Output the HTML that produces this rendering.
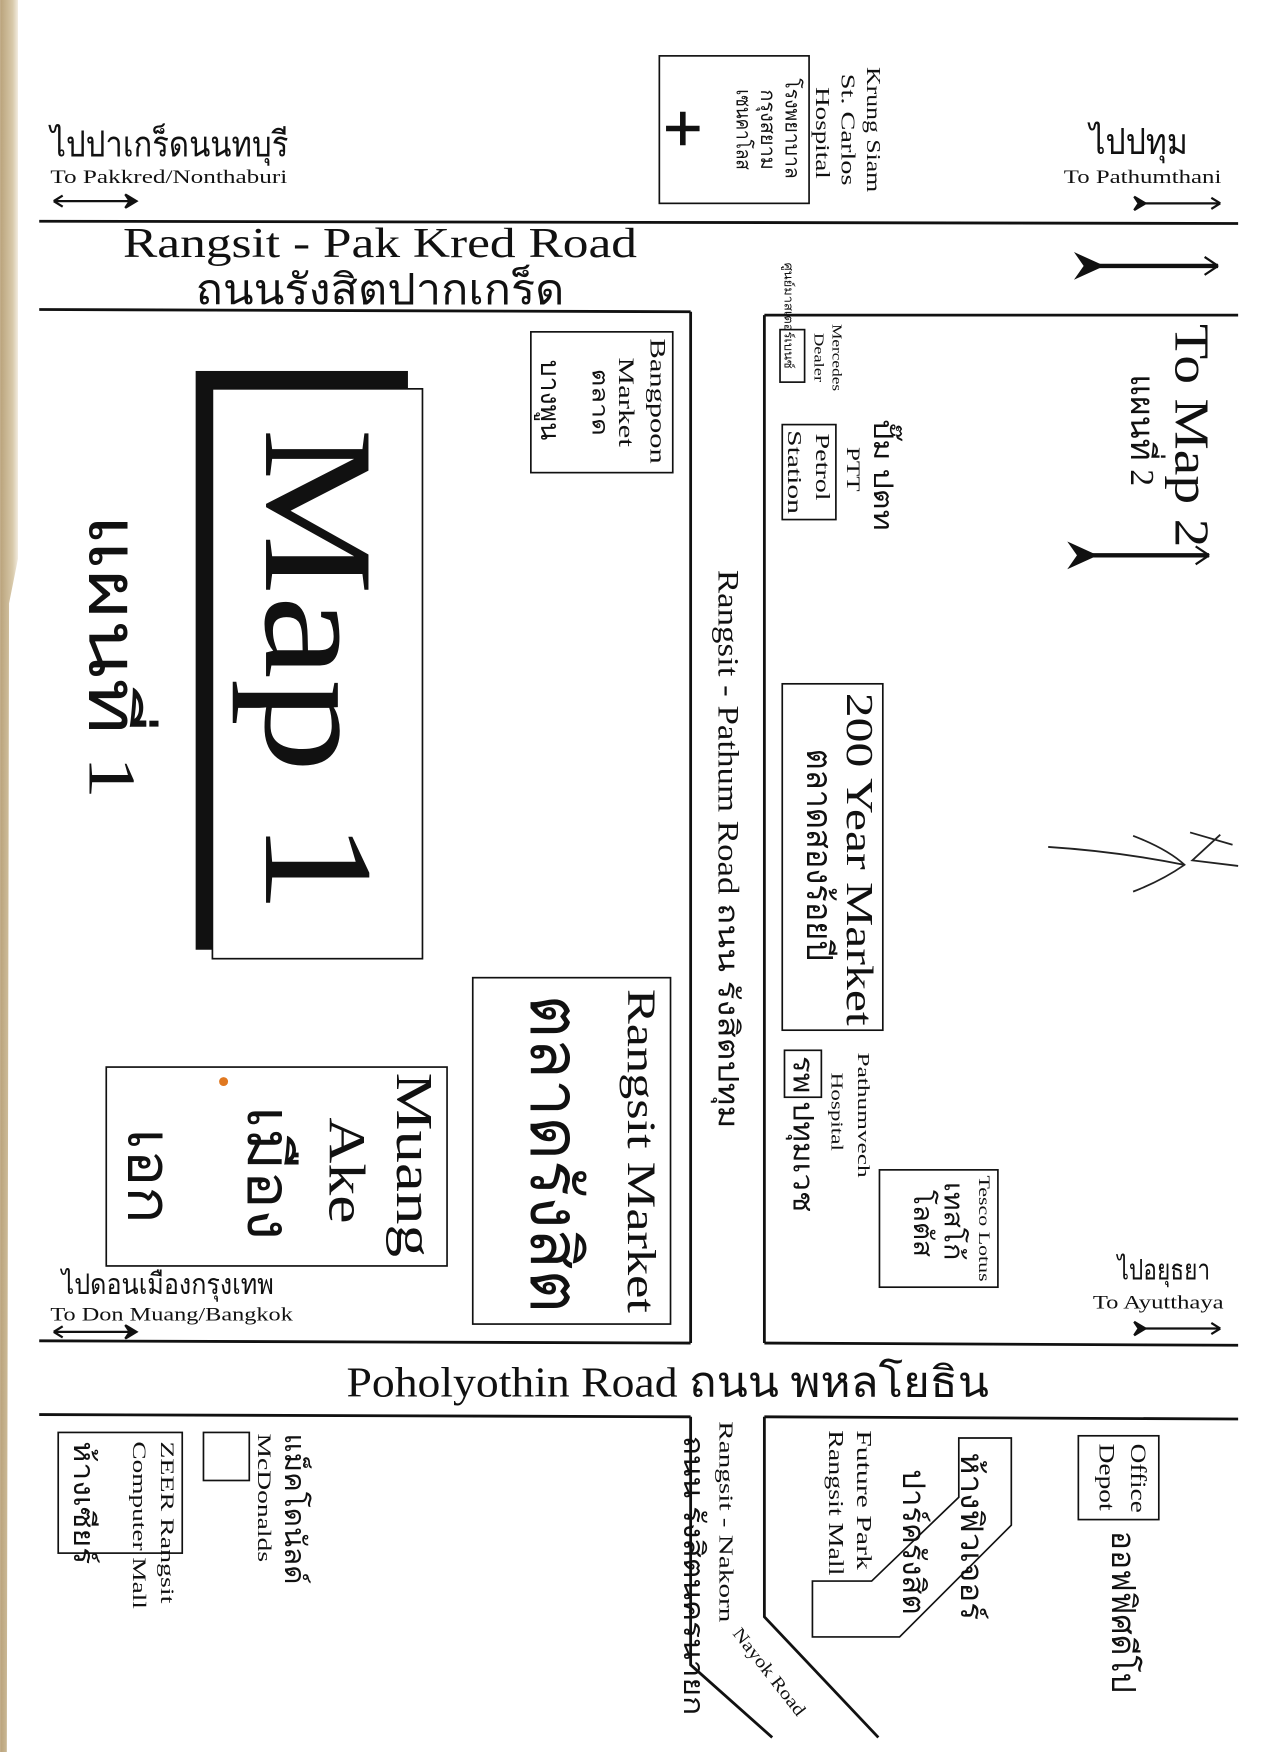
<!DOCTYPE html>
<html><head><meta charset="utf-8"><style>
html,body{margin:0;padding:0;background:#fff;}
svg{display:block;}
text{font-family:"Liberation Serif","DejaVu Serif",serif;fill:#111;}
</style></head><body>
<svg width="1274" height="1752" viewBox="0 0 1140 1568" xmlns="http://www.w3.org/2000/svg">
<defs><linearGradient id="tan" x1="0" x2="1"><stop offset="0" stop-color="#b9a27a"/><stop offset="0.7" stop-color="#d8c9aa"/><stop offset="1" stop-color="#f2ece0"/></linearGradient></defs>
<rect width="1140" height="1568" fill="#fff"/>
<path d="M0 0H16V500L8 540L6 1568H0Z" fill="url(#tan)"/>
<g stroke="#111" stroke-width="2.5" fill="none">
<line x1="35" y1="198" x2="1108" y2="200"/>
<line x1="35" y1="277" x2="618" y2="279"/>
<line x1="684" y1="282" x2="1108" y2="282"/>
<line x1="618" y1="279" x2="618" y2="1202"/>
<line x1="684" y1="282" x2="684" y2="1202"/>
<line x1="35" y1="1200" x2="618" y2="1202"/>
<line x1="684" y1="1202" x2="1108" y2="1204"/>
<line x1="35" y1="1266" x2="618" y2="1268"/>
<line x1="684" y1="1268" x2="1108" y2="1270"/>
<polyline points="618,1268 618,1490 691,1555"/>
<polyline points="684,1268 684,1447 786,1555"/>
</g>
<g stroke="#111" stroke-width="1.5" fill="none">
<rect x="590" y="50" width="134" height="132"/>
<rect x="698" y="295" width="22" height="47"/>
<rect x="700" y="380" width="48" height="85"/>
<rect x="475" y="297" width="127" height="126"/>
<rect x="700" y="612" width="90" height="310"/>
<rect x="702" y="940" width="33" height="42"/>
<rect x="787" y="1047" width="106" height="105"/>
<rect x="423" y="875" width="177" height="310"/>
<rect x="95" y="955" width="305" height="178"/>
<rect x="52" y="1282" width="111" height="108"/>
<rect x="182" y="1282" width="41" height="43"/>
<rect x="965" y="1285" width="72" height="75"/>
<polygon points="858,1287 905,1287 905,1365 805,1465 727,1465 727,1415 780,1415 858,1340"/>
</g>
<rect x="175" y="332" width="190" height="518" fill="#111"/>
<rect x="190" y="348" width="188" height="510" fill="#fff" stroke="#111" stroke-width="1.5"/>
<path d="M596 115h30M611 100v30" stroke="#111" stroke-width="5"/>
<circle cx="200" cy="968" r="4" fill="#e07820"/>
<g stroke="#111" stroke-width="2" fill="#111">
<line x1="48" y1="180" x2="122" y2="180"/><path d="M48 180l8-5M48 180l8 5" fill="none"/><path d="M112 174l10 6-10 6 4-6z"/>
<line x1="1018" y1="182" x2="1092" y2="182"/><path d="M1092 182l-8-5M1092 182l-8 5" fill="none"/><path d="M1015 176l10 6-10 6 4-6z"/>
<line x1="48" y1="1192" x2="122" y2="1192"/><path d="M48 1192l8-5M48 1192l8 5" fill="none"/><path d="M112 1186l10 6-10 6 4-6z"/>
<line x1="1018" y1="1189" x2="1092" y2="1189"/><path d="M1092 1189l-8-5M1092 1189l-8 5" fill="none"/><path d="M1015 1183l10 6-10 6 4-6z"/>
<line x1="970" y1="238" x2="1090" y2="238" stroke-width="4"/><path d="M1090 238l-12-8M1090 238l-12 8" fill="none"/><path d="M964 228l22 10-22 10 7-10z"/>
<line x1="965" y1="497" x2="1082" y2="497" stroke-width="4"/><path d="M1082 497l-12-8M1082 497l-12 8" fill="none"/><path d="M958 487l22 10-22 10 7-10z"/>
</g>
<g stroke="#222" stroke-width="1.6" fill="none">
<path d="M938 758Q1000 762 1060 774"/><path d="M1014 748Q1045 760 1060 774Q1040 788 1014 798"/>
<path d="M1065 745L1103 756M1092 747L1067 770L1108 775"/>
</g>
<g lengthAdjust="spacingAndGlyphs">
<text lengthAdjust="spacingAndGlyphs" x="45" y="140" font-size="32" textLength="213">ไปปาเกร็ดนนทบุรี</text>
<text lengthAdjust="spacingAndGlyphs" x="45" y="164" font-size="17" textLength="212">To Pakkred/Nonthaburi</text>
<text lengthAdjust="spacingAndGlyphs" x="975" y="138" font-size="32" textLength="88">ไปปทุม</text>
<text lengthAdjust="spacingAndGlyphs" x="952" y="164" font-size="17" textLength="141">To Pathumthani</text>
<text lengthAdjust="spacingAndGlyphs" x="110" y="230" font-size="38" textLength="460">Rangsit - Pak Kred Road</text>
<text lengthAdjust="spacingAndGlyphs" x="175" y="272" font-size="38" textLength="330">ถนนรังสิตปากเกร็ด</text>
<text lengthAdjust="spacingAndGlyphs" x="55" y="1158" font-size="26" textLength="190">ไปดอนเมืองกรุงเทพ</text>
<text lengthAdjust="spacingAndGlyphs" x="45" y="1182" font-size="17" textLength="217">To Don Muang/Bangkok</text>
<text lengthAdjust="spacingAndGlyphs" x="1000" y="1145" font-size="26" textLength="83">ไปอยุธยา</text>
<text lengthAdjust="spacingAndGlyphs" x="978" y="1171" font-size="17" textLength="117">To Ayutthaya</text>
<text lengthAdjust="spacingAndGlyphs" x="310" y="1250" font-size="38" textLength="575">Poholyothin Road ถนน พหลโยธิน</text>
<text lengthAdjust="spacingAndGlyphs" transform="translate(776,60) rotate(90)" font-size="18" textLength="112">Krung Siam</text>
<text lengthAdjust="spacingAndGlyphs" transform="translate(753,66) rotate(90)" font-size="18" textLength="100">St. Carlos</text>
<text lengthAdjust="spacingAndGlyphs" transform="translate(730,78) rotate(90)" font-size="18" textLength="82">Hospital</text>
<text lengthAdjust="spacingAndGlyphs" transform="translate(703,70) rotate(90)" font-size="18" textLength="90">โรงพยาบาล</text>
<text lengthAdjust="spacingAndGlyphs" transform="translate(681,80) rotate(90)" font-size="18" textLength="72">กรุงสยาม</text>
<text lengthAdjust="spacingAndGlyphs" transform="translate(659,80) rotate(90)" font-size="18" textLength="72">เซนคาโลส</text>
<text lengthAdjust="spacingAndGlyphs" transform="translate(1052,290) rotate(90)" font-size="44" textLength="200">To Map 2</text>
<text lengthAdjust="spacingAndGlyphs" transform="translate(1012,335) rotate(90)" font-size="30" textLength="100">แผนที่ 2</text>
<text lengthAdjust="spacingAndGlyphs" transform="translate(745,290) rotate(90)" font-size="12" textLength="60">Mercedes</text>
<text lengthAdjust="spacingAndGlyphs" transform="translate(729,298) rotate(90)" font-size="12" textLength="44">Dealer</text>
<text lengthAdjust="spacingAndGlyphs" transform="translate(702,235) rotate(90)" font-size="11" textLength="95">ศูนย์มาสเตอร์เบนซ์</text>
<text lengthAdjust="spacingAndGlyphs" transform="translate(782,375) rotate(90)" font-size="24" textLength="100">ปั๊ม ปตท</text>
<text lengthAdjust="spacingAndGlyphs" transform="translate(758,400) rotate(90)" font-size="17" textLength="40">PTT</text>
<text lengthAdjust="spacingAndGlyphs" transform="translate(730,388) rotate(90)" font-size="18" textLength="60">Petrol</text>
<text lengthAdjust="spacingAndGlyphs" transform="translate(705,385) rotate(90)" font-size="18" textLength="75">Station</text>
<text lengthAdjust="spacingAndGlyphs" transform="translate(582,303) rotate(90)" font-size="20" textLength="112">Bangpoon</text>
<text lengthAdjust="spacingAndGlyphs" transform="translate(554,320) rotate(90)" font-size="20" textLength="80">Market</text>
<text lengthAdjust="spacingAndGlyphs" transform="translate(530,330) rotate(90)" font-size="20" textLength="60">ตลาด</text>
<text lengthAdjust="spacingAndGlyphs" transform="translate(484,322) rotate(90)" font-size="24" textLength="72">บางพูน</text>
<text lengthAdjust="spacingAndGlyphs" transform="translate(238,383) rotate(90)" font-size="140" textLength="435">Map 1</text>
<text lengthAdjust="spacingAndGlyphs" transform="translate(80,460) rotate(90)" font-size="60" textLength="255">แผนที่ 1</text>
<text lengthAdjust="spacingAndGlyphs" transform="translate(643,510) rotate(90)" font-size="26" textLength="500">Rangsit - Pathum Road ถนน รังสิตปทุม</text>
<text lengthAdjust="spacingAndGlyphs" transform="translate(758,620) rotate(90)" font-size="34" textLength="298">200 Year Market</text>
<text lengthAdjust="spacingAndGlyphs" transform="translate(722,670) rotate(90)" font-size="32" textLength="190">ตลาดสองร้อยปี</text>
<text lengthAdjust="spacingAndGlyphs" transform="translate(768,942) rotate(90)" font-size="15" textLength="112">Pathumvech</text>
<text lengthAdjust="spacingAndGlyphs" transform="translate(744,960) rotate(90)" font-size="15" textLength="70">Hospital</text>
<text lengthAdjust="spacingAndGlyphs" transform="translate(710,945) rotate(90)" font-size="26" textLength="140">รพ ปทุมเวช</text>
<text lengthAdjust="spacingAndGlyphs" transform="translate(876,1052) rotate(90)" font-size="14" textLength="95">Tesco Lotus</text>
<text lengthAdjust="spacingAndGlyphs" transform="translate(845,1058) rotate(90)" font-size="24" textLength="70">เทสโก้</text>
<text lengthAdjust="spacingAndGlyphs" transform="translate(818,1065) rotate(90)" font-size="24" textLength="60">โลตัส</text>
<text lengthAdjust="spacingAndGlyphs" transform="translate(562,885) rotate(90)" font-size="36" textLength="290">Rangsit Market</text>
<text lengthAdjust="spacingAndGlyphs" transform="translate(475,890) rotate(90)" font-size="62" textLength="285">ตลาดรังสิต</text>
<text lengthAdjust="spacingAndGlyphs" transform="translate(355,960) rotate(90)" font-size="46" textLength="165">Muang</text>
<text lengthAdjust="spacingAndGlyphs" transform="translate(295,1000) rotate(90)" font-size="46" textLength="95">Ake</text>
<text lengthAdjust="spacingAndGlyphs" transform="translate(222,990) rotate(90)" font-size="54" textLength="120">เมือง</text>
<text lengthAdjust="spacingAndGlyphs" transform="translate(115,1010) rotate(90)" font-size="54" textLength="85">เอก</text>
<text lengthAdjust="spacingAndGlyphs" transform="translate(144,1290) rotate(90)" font-size="17" textLength="145">ZEER Rangsit</text>
<text lengthAdjust="spacingAndGlyphs" transform="translate(119,1290) rotate(90)" font-size="17" textLength="150">Computer Mall</text>
<text lengthAdjust="spacingAndGlyphs" transform="translate(66,1290) rotate(90)" font-size="26" textLength="110">ห้างเซียร์</text>
<text lengthAdjust="spacingAndGlyphs" transform="translate(231,1283) rotate(90)" font-size="17" textLength="115">McDonalds</text>
<text lengthAdjust="spacingAndGlyphs" transform="translate(255,1283) rotate(90)" font-size="26" textLength="135">แม็คโดนัลด์</text>
<text lengthAdjust="spacingAndGlyphs" transform="translate(644,1272) rotate(90)" font-size="18" textLength="180">Rangsit - Nakorn</text>
<text lengthAdjust="spacingAndGlyphs" transform="translate(655,1462) rotate(52)" font-size="16" textLength="95">Nayok Road</text>
<text lengthAdjust="spacingAndGlyphs" transform="translate(612,1285) rotate(90)" font-size="26" textLength="250">ถนน รังสิตนครนายก</text>
<text lengthAdjust="spacingAndGlyphs" transform="translate(767,1280) rotate(90)" font-size="19" textLength="125">Future Park</text>
<text lengthAdjust="spacingAndGlyphs" transform="translate(742,1280) rotate(90)" font-size="19" textLength="130">Rangsit Mall</text>
<text lengthAdjust="spacingAndGlyphs" transform="translate(860,1300) rotate(90)" font-size="28" textLength="150">ห้างฟิวเจอร์</text>
<text lengthAdjust="spacingAndGlyphs" transform="translate(808,1315) rotate(90)" font-size="28" textLength="130">ปาร์ครังสิต</text>
<text lengthAdjust="spacingAndGlyphs" transform="translate(1012,1292) rotate(90)" font-size="20" textLength="62">Office</text>
<text lengthAdjust="spacingAndGlyphs" transform="translate(984,1292) rotate(90)" font-size="20" textLength="60">Depot</text>
<text lengthAdjust="spacingAndGlyphs" transform="translate(995,1370) rotate(90)" font-size="30" textLength="145">ออฟฟิศดีโป</text>
</g>
</svg>
</body></html>
